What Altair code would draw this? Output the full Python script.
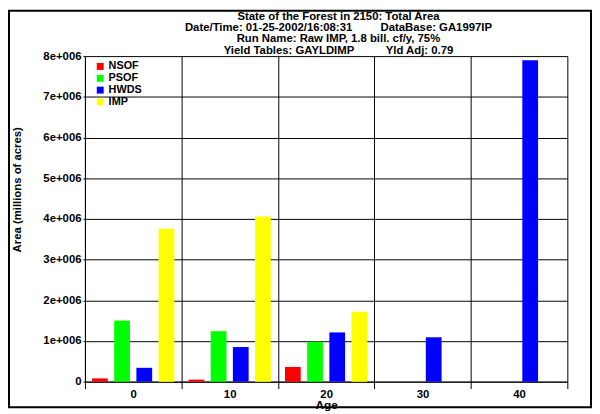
import altair as alt
import pandas as pd

ages = [0, 10, 20, 30, 40]
series = ["NSOF", "PSOF", "HWDS", "IMP"]
colors = ["#ff0000", "#00ff00", "#0000ff", "#ffff00"]
nsof = [80000, 50000, 360000, 0, 0]
psof = [1500000, 1240000, 980000, 0, 0]
hwds = [340000, 850000, 1210000, 1090000, 7900000]
imp = [3760000, 4060000, 1720000, 0, 0]
y_ticks = [0, 1e6, 2e6, 3e6, 4e6, 5e6, 6e6, 7e6, 8e6]

title_lines = [
    "State of the Forest in 2150: Total Area",
    "Date/Time: 01-25-2002/16:08:31" + "\u00a0" * 9 + "DataBase: GA1997IP",
    "Run Name: Raw IMP, 1.8 bill. cf/y, 75%",
    "Yield Tables: GAYLDIMP" + "\u00a0" * 10 + "Yld Adj: 0.79",
]

rows = []
for name, vals in zip(series, [nsof, psof, hwds, imp]):
    for a, v in zip(ages, vals):
        rows.append({"age": a, "series": name, "area": v})
df = pd.DataFrame(rows)

FONT = "Liberation Sans"

bars = (
    alt.Chart(df)
    .transform_filter("datum.area > 0")
    .mark_bar()
    .encode(
        x=alt.X(
            "age:O",
            scale=alt.Scale(domain=ages, paddingInner=0, paddingOuter=0),
            axis=alt.Axis(
                title="Age",
                labelAngle=0,
                grid=True,
                gridColor="black",
                gridOpacity=1,
                tickBand="extent",
                tickSize=7,
                tickColor="black",
                domainColor="black",
                labelFont=FONT,
                labelFontSize=11.5,
                labelFontWeight="bold",
                labelColor="black",
                labelPadding=0,
                titleFont=FONT,
                titleFontSize=12,
                titleFontWeight="bold",
                titleColor="black",
                titlePadding=0,
            ),
        ),
        xOffset=alt.XOffset(
            "series:N",
            scale=alt.Scale(domain=series, paddingInner=0.29, paddingOuter=0.32),
        ),
        y=alt.Y(
            "area:Q",
            scale=alt.Scale(domain=[0, 8e6], nice=False, zero=True),
            axis=alt.Axis(
                title="Area (millions of acres)",
                values=y_ticks,
                labelExpr="datum.value == 0 ? '0' : format(datum.value / 1000000, 'd') + 'e+006'",
                grid=True,
                gridColor="black",
                gridOpacity=1,
                tickSize=2,
                tickColor="black",
                domainColor="black",
                labelFont=FONT,
                labelFontSize=11.5,
                labelFontWeight="bold",
                labelColor="black",
                labelPadding=2,
                titleFont=FONT,
                titleFontSize=11.5,
                titleFontWeight="bold",
                titleColor="black",
                titlePadding=21,
                titleY=135,
            ),
        ),
        color=alt.Color(
            "series:N",
            scale=alt.Scale(domain=series, range=colors),
            legend=alt.Legend(
                title=None,
                orient="none",
                legendX=10,
                legendY=5,
                padding=0,
                symbolType="square",
                symbolSize=49,
                symbolStrokeWidth=0,
                symbolOpacity=1,
                rowPadding=0,
                labelOffset=3,
                labelFont=FONT,
                labelFontSize=11,
                labelFontWeight="bold",
                labelColor="black",
            ),
        ),
    )
)

frame = (
    alt.Chart(alt.Data(values=[{}]))
    .mark_rect(fill="transparent", stroke="black", strokeWidth=2)
    .encode(
        x=alt.value(-77),
        x2=alt.value(513),
        y=alt.value(-46),
        y2=alt.value(356),
    )
)

chart = (
    alt.layer(bars, frame)
    .properties(
        width=489,
        height=330,
        autosize="none",
        padding={"left": 78, "top": 46, "right": 25, "bottom": 27},
        title=alt.TitleParams(
            text=title_lines,
            anchor="middle",
            font=FONT,
            fontSize=11.5,
            fontWeight="bold",
            color="black",
            lineHeight=11.5,
            offset=-47,
            dx=12.5,
        ),
        background="white",
    )
    .configure_view(stroke=None)
)

chart.save("out.html", embed_options={"renderer": "svg", "actions": False})
